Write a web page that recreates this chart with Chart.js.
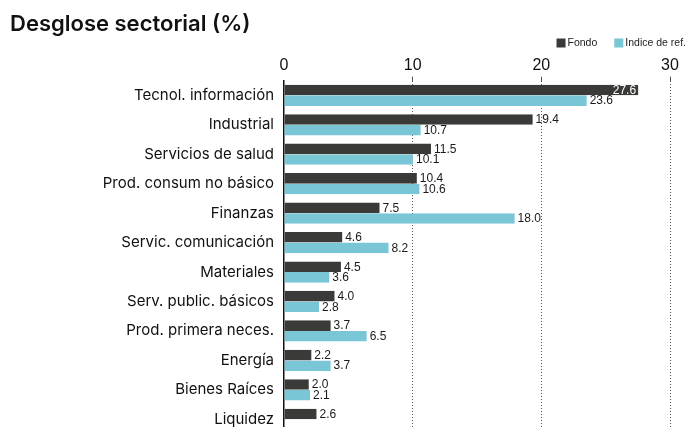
<!DOCTYPE html>
<html>
<head>
<meta charset="utf-8">
<script src="https://cdn.jsdelivr.net/npm/chart.js@4"></script>
<style>
html,body{margin:0;padding:0;background:#fff;overflow:hidden;width:691px;height:427px;}
#wrap{position:relative;width:691px;height:434px;}
</style>
</head>
<body>
<div id="wrap"><canvas id="c" width="691" height="434"></canvas></div>
<script>
const categories = ["Tecnol. información","Industrial","Servicios de salud","Prod. consum no básico","Finanzas","Servic. comunicación","Materiales","Serv. public. básicos","Prod. primera neces.","Energía","Bienes Raíces","Liquidez"];
const fondo = [27.6,19.4,11.5,10.4,7.5,4.6,4.5,4.0,3.7,2.2,2.0,2.6];
const indice = [23.6,10.7,10.1,10.6,18.0,8.2,3.6,2.8,6.5,3.7,2.1,null];
const seriesNames = ["Fondo","Indice de ref."];
const seriesColors = ["#3a3a38","#79c6d6"];
const tickValues = [0,10,20,30];

const FONT = "Inter, 'Liberation Sans', Arial, sans-serif";
const NUMFONT = "'Liberation Sans', Arial, sans-serif";

const valueLabels = {
  id:'valueLabels',
  afterDatasetsDraw(chart){
    const ctx = chart.ctx;
    ctx.save();
    ctx.font = "12px " + NUMFONT;
    ctx.textBaseline = 'middle';
    chart.data.datasets.forEach((ds,di)=>{
      const meta = chart.getDatasetMeta(di);
      meta.data.forEach((bar,i)=>{
        const v = ds.data[i];
        if(v===null||v===undefined) return;
        const txt = v.toFixed(1);
        if(v > 26){
          ctx.fillStyle = '#ffffff';
          ctx.textAlign = 'right';
          ctx.fillText(txt, bar.x-3, bar.y+0.5);
        } else {
          ctx.fillStyle = '#1a1a1a';
          ctx.textAlign = 'left';
          ctx.fillText(txt, bar.x+2, bar.y+0.5);
        }
      });
    });
    ctx.restore();
  }
};

const topLegend = {
  id:'topLegend',
  afterDraw(chart){
    const ctx = chart.ctx;
    ctx.save();
    ctx.font = "10.5px " + NUMFONT;
    ctx.textBaseline = 'middle';
    ctx.textAlign = 'left';
    const box = 9, gapText = 2, gapItem = 17, yc = 43;
    const widths = chart.data.datasets.map(d=>box+gapText+ctx.measureText(d.label).width);
    let total = widths.reduce((a,b)=>a+b,0) + gapItem*(widths.length-1);
    let x = chart.width - 5 - total;
    chart.data.datasets.forEach((d,i)=>{
      ctx.fillStyle = d.backgroundColor;
      ctx.fillRect(x, yc-box/2, box, box);
      ctx.fillStyle = '#222';
      ctx.fillText(d.label, x+box+gapText, yc+0.5);
      x += widths[i] + gapItem;
    });
    ctx.restore();
  }
};

new Chart(document.getElementById('c'),{
  type:'bar',
  data:{
    labels:categories,
    datasets:[
      {label:seriesNames[0],data:fondo,backgroundColor:seriesColors[0],borderColor:'#ffffff',borderWidth:{top:0,bottom:0,left:0,right:1},categoryPercentage:0.72,barPercentage:1},
      {label:seriesNames[1],data:indice,backgroundColor:seriesColors[1],borderColor:'#ffffff',borderWidth:{top:0,bottom:0,left:0,right:1},categoryPercentage:0.72,barPercentage:1}
    ]
  },
  options:{
    indexAxis:'y',
    responsive:false,
    animation:false,
    layout:{padding:{left:10,right:21,top:2,bottom:0}},
    plugins:{
      title:{display:true,text:'Desglose sectorial (%)',align:'start',color:'#111',font:{family:FONT,size:22,weight:'600'},padding:{top:9,bottom:18}},
      legend:{display:false},
      tooltip:{enabled:false}
    },
    scales:{
      x:{
        position:'top',min:0,max:30,
        afterBuildTicks(axis){axis.ticks = tickValues.map(v=>({value:v}));},
        ticks:{color:'#111',font:{family:NUMFONT,size:16},padding:1},
        grid:{
          color:(c)=> c.tick && c.tick.value===0 ? 'rgba(0,0,0,0)' : '#555',
          lineWidth:1,
          tickLength:4,
          drawTicks:true
        },
        border:{display:false,dash:[1,2]}
      },
      y:{
        afterFit(axis){ axis.width = 274; axis.paddingTop = 0; axis.paddingBottom = 0; },
        ticks:{color:'#111',font:{family:FONT,size:15},padding:10},
        grid:{display:false,drawTicks:false,tickLength:0},
        border:{display:true,color:'#111',width:1.5}
      }
    }
  },
  plugins:[valueLabels,topLegend]
});
</script>
</body>
</html>
